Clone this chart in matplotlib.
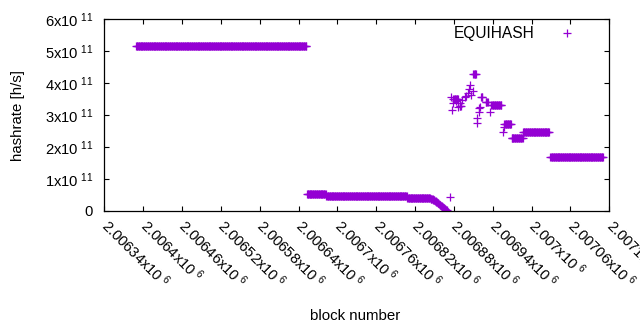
import numpy as np
import matplotlib
matplotlib.use('Agg')
import matplotlib.pyplot as plt

# ---- data (hashrate in units of 1e11 h/s) ----
run_start = [2006389, 2006653, 2006683, 2006701, 2006808, 2006879, 2006889,
             2006910, 2006922, 2006929, 2006938, 2006958, 2006969, 2006987, 2007029]
run_end = [2006652, 2006682, 2006700, 2006807, 2006843, 2006886, 2006891,
           2006914, 2006924, 2006932, 2006953, 2006968, 2006986, 2007027, 2007110]
run_value = [5.15, 0.52, 0.48, 0.46, 0.40, 3.52, 3.28,
             4.28, 3.57, 3.40, 3.31, 2.72, 2.30, 2.46, 1.70]

decline_start = 2006844
decline_values = [0.39, 0.38, 0.37, 0.36, 0.35, 0.34, 0.33, 0.31, 0.30, 0.28,
                  0.27, 0.25, 0.24, 0.22, 0.20, 0.19, 0.17, 0.15, 0.14, 0.12,
                  0.10, 0.09, 0.07, 0.05, 0.04, 0.03]

single_blocks = [2006874, 2006875, 2006877, 2006878, 2006887, 2006893, 2006897,
                 2006898, 2006901, 2006903, 2006905, 2006907, 2006909, 2006915,
                 2006916, 2006918, 2006919, 2006920, 2006935, 2006956, 2006957,
                 2006890, 2006883]
single_values = [0.44, 3.57, 3.16, 3.37, 3.26, 3.47, 3.57,
                 3.59, 3.68, 3.83, 3.94, 3.63, 3.75, 2.74,
                 2.90, 3.10, 3.21, 3.24, 3.10, 2.48, 2.62,
                 3.37, 3.45]

series_label = "EQUIHASH"
x_ticks = list(range(2006340, 2007121, 60))
y_ticks = [0, 1, 2, 3, 4, 5, 6]

# ---- assemble points ----
xs, ys = [], []
for s, e, v in zip(run_start, run_end, run_value):
    b = np.arange(s, e + 1)
    xs.append(b)
    ys.append(np.full(b.shape, v))
xs.append(np.arange(decline_start, decline_start + len(decline_values)))
ys.append(np.array(decline_values))
xs.append(np.array(single_blocks))
ys.append(np.array(single_values))
x = np.concatenate(xs)
y = np.concatenate(ys) * 1e11
order = np.argsort(x, kind='stable')
x, y = x[order], y[order]

plt.rcParams['font.family'] = ['Liberation Sans', 'DejaVu Sans']
plt.rcParams['font.size'] = 10.8
plt.rcParams['mathtext.fontset'] = 'custom'
plt.rcParams['mathtext.rm'] = 'Liberation Sans'

fig = plt.figure(figsize=(6.4, 3.3), dpi=100)
ax = fig.add_axes([104.3 / 640, 1 - 211 / 330, 505 / 640, 191.7 / 330])

color = '#9400d3'
ax.plot(x, y, linestyle='none', marker='+', markersize=5.6, markeredgewidth=0.9,
        color=color, label=series_label)

ax.set_xlim(x_ticks[0], x_ticks[-1])
ax.set_ylim(0, 6e11)

ax.set_xticks(x_ticks)
ax.set_xticklabels([r'$\mathregular{%gx10^{\ 6}}$' % (t / 1e6) for t in x_ticks],
                   rotation=-45, ha='left', va='center', rotation_mode='anchor')
ax.set_yticks([v * 1e11 for v in y_ticks])
ax.set_yticklabels(['0' if v == 0 else r'$\mathregular{%dx10^{\ 11}}$' % v for v in y_ticks])

ax.tick_params(direction='in', length=3.5, width=0.8, top=True, right=True,
               labelsize=10.6, colors='black')
ax.tick_params(axis='y', pad=8)
ax.tick_params(axis='x', pad=8)
for sp in ax.spines.values():
    sp.set_linewidth(0.9)

ax.set_ylabel('hashrate [h/s]', fontsize=10.8)
ax.yaxis.set_label_coords(-0.157, 0.5)
ax.set_xlabel('block number', fontsize=10.8)
ax.xaxis.set_label_coords(0.496, -0.51)

ax.legend(loc='upper right', markerfirst=False, frameon=False, fontsize=11.2,
          handlelength=1.5, handletextpad=1.3, borderaxespad=0.2,
          bbox_to_anchor=(0.957, 1.012))

fig.savefig('out.png', dpi=100)
